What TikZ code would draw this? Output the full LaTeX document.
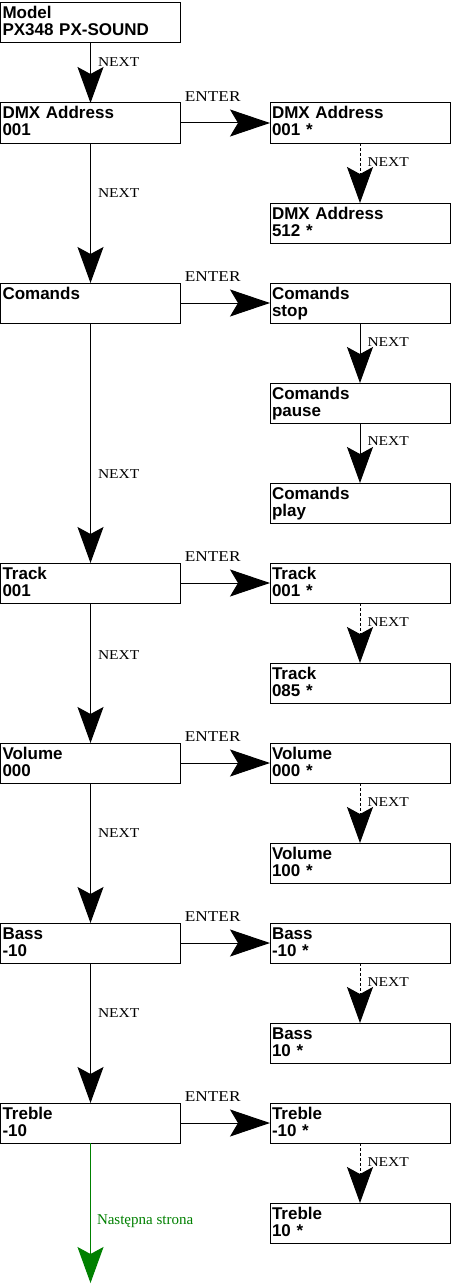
\documentclass[tikz,border=0pt]{standalone}
\usepackage{fontspec}
\setsansfont{Liberation Sans}
\newfontfamily\lblfont[FakeStretch=1.15]{Liberation Serif}
\newfontfamily\pagefont{Liberation Serif}
\usetikzlibrary{arrows.meta}
\definecolor{pagegreen}{RGB}{0,128,0}
\tikzset{
  menubox/.style={draw=black, line width=1pt, rectangle, anchor=north west, outer sep=0pt,
    inner xsep=2pt, inner ysep=2pt, text width=176pt, align=left,
    text height=14pt, text depth=22pt, font=\fontsize{17}{17}\selectfont\sffamily\bfseries},
  nextarrow/.style={draw=black, line width=1pt, -{Stealth[length=36pt, width=26pt, inset=7pt]}},
  setarrow/.style={nextarrow, dash pattern=on 3pt off 2pt},
  enterarrow/.style={draw=black, line width=1pt, -{Stealth[length=40pt, width=27pt, inset=8pt]}},
  pagearrow/.style={draw=pagegreen, line width=1pt, -{Stealth[length=36pt, width=26pt, inset=7pt]}},
  nextlbl/.style={anchor=west, inner sep=0pt, xshift=7pt, font=\fontsize{13.5}{14}\lblfont},
  enterlbl/.style={anchor=south, inner sep=0pt, yshift=21pt, font=\fontsize{15}{15}\lblfont},
  pagelbl/.style={anchor=west, inner sep=0pt, xshift=6pt, text=pagegreen, font=\fontsize{15}{15}\pagefont},
}
\begin{document}
\begin{tikzpicture}[x=1pt, y=-1pt]
\useasboundingbox (0,0) rectangle (451,1287);
\node[menubox] (model) at (0.5,2.5) {Model\\PX348 PX-SOUND};
\node[menubox] (dmx) at (0.5,103) {DMX Address\\001};
\node[menubox] (dmxset) at (270,103) {DMX Address\\001 *};
\node[menubox] (dmxmax) at (270,203) {DMX Address\\512 *};
\node[menubox] (cmd) at (0.5,283) {Comands\\\mbox{}};
\node[menubox] (cmdstop) at (270,283) {Comands\\stop};
\node[menubox] (cmdpause) at (270,383) {Comands\\pause};
\node[menubox] (cmdplay) at (270,483) {Comands\\play};
\node[menubox] (track) at (0.5,563) {Track\\001};
\node[menubox] (trackset) at (270,563) {Track\\001 *};
\node[menubox] (trackmax) at (270,663) {Track\\085 *};
\node[menubox] (vol) at (0.5,743) {Volume\\000};
\node[menubox] (volset) at (270,743) {Volume\\000 *};
\node[menubox] (volmax) at (270,843) {Volume\\100 *};
\node[menubox] (bass) at (0.5,923) {Bass\\-10};
\node[menubox] (bassset) at (270,923) {Bass\\-10 *};
\node[menubox] (bassmax) at (270,1023) {Bass\\10 *};
\node[menubox] (treble) at (0.5,1103) {Treble\\-10};
\node[menubox] (trebleset) at (270,1103) {Treble\\-10 *};
\node[menubox] (treblemax) at (270,1203) {Treble\\10 *};
\coordinate (nextpage) at (90.5,1283);

\draw[nextarrow] (model.south) -- node[nextlbl, pos=0.32] {NEXT} (dmx.north);
\draw[nextarrow] (dmx.south) -- node[nextlbl, pos=0.36] {NEXT} (cmd.north);
\draw[nextarrow] (cmd.south) -- node[nextlbl, pos=0.63] {NEXT} (track.north);
\draw[nextarrow] (track.south) -- node[nextlbl, pos=0.37] {NEXT} (vol.north);
\draw[nextarrow] (vol.south) -- node[nextlbl, pos=0.36] {NEXT} (bass.north);
\draw[nextarrow] (bass.south) -- node[nextlbl, pos=0.36] {NEXT} (treble.north);
\draw[pagearrow] (treble.south) -- node[pagelbl, pos=0.56] {Następna strona} (nextpage);

\draw[enterarrow] (dmx.east) -- node[enterlbl, pos=0.36] {ENTER} (dmxset.west);
\draw[enterarrow] (cmd.east) -- node[enterlbl, pos=0.36] {ENTER} (cmdstop.west);
\draw[enterarrow] (track.east) -- node[enterlbl, pos=0.36] {ENTER} (trackset.west);
\draw[enterarrow] (vol.east) -- node[enterlbl, pos=0.36] {ENTER} (volset.west);
\draw[enterarrow] (bass.east) -- node[enterlbl, pos=0.36] {ENTER} (bassset.west);
\draw[enterarrow] (treble.east) -- node[enterlbl, pos=0.36] {ENTER} (trebleset.west);

\draw[setarrow] (dmxset.south) -- node[nextlbl, pos=0.32] {NEXT} (dmxmax.north);
\draw[nextarrow] (cmdstop.south) -- node[nextlbl, pos=0.32] {NEXT} (cmdpause.north);
\draw[nextarrow] (cmdpause.south) -- node[nextlbl, pos=0.3] {NEXT} (cmdplay.north);
\draw[setarrow] (trackset.south) -- node[nextlbl, pos=0.32] {NEXT} (trackmax.north);
\draw[setarrow] (volset.south) -- node[nextlbl, pos=0.32] {NEXT} (volmax.north);
\draw[setarrow] (bassset.south) -- node[nextlbl, pos=0.32] {NEXT} (bassmax.north);
\draw[setarrow] (trebleset.south) -- node[nextlbl, pos=0.32] {NEXT} (treblemax.north);
\end{tikzpicture}
\end{document}
